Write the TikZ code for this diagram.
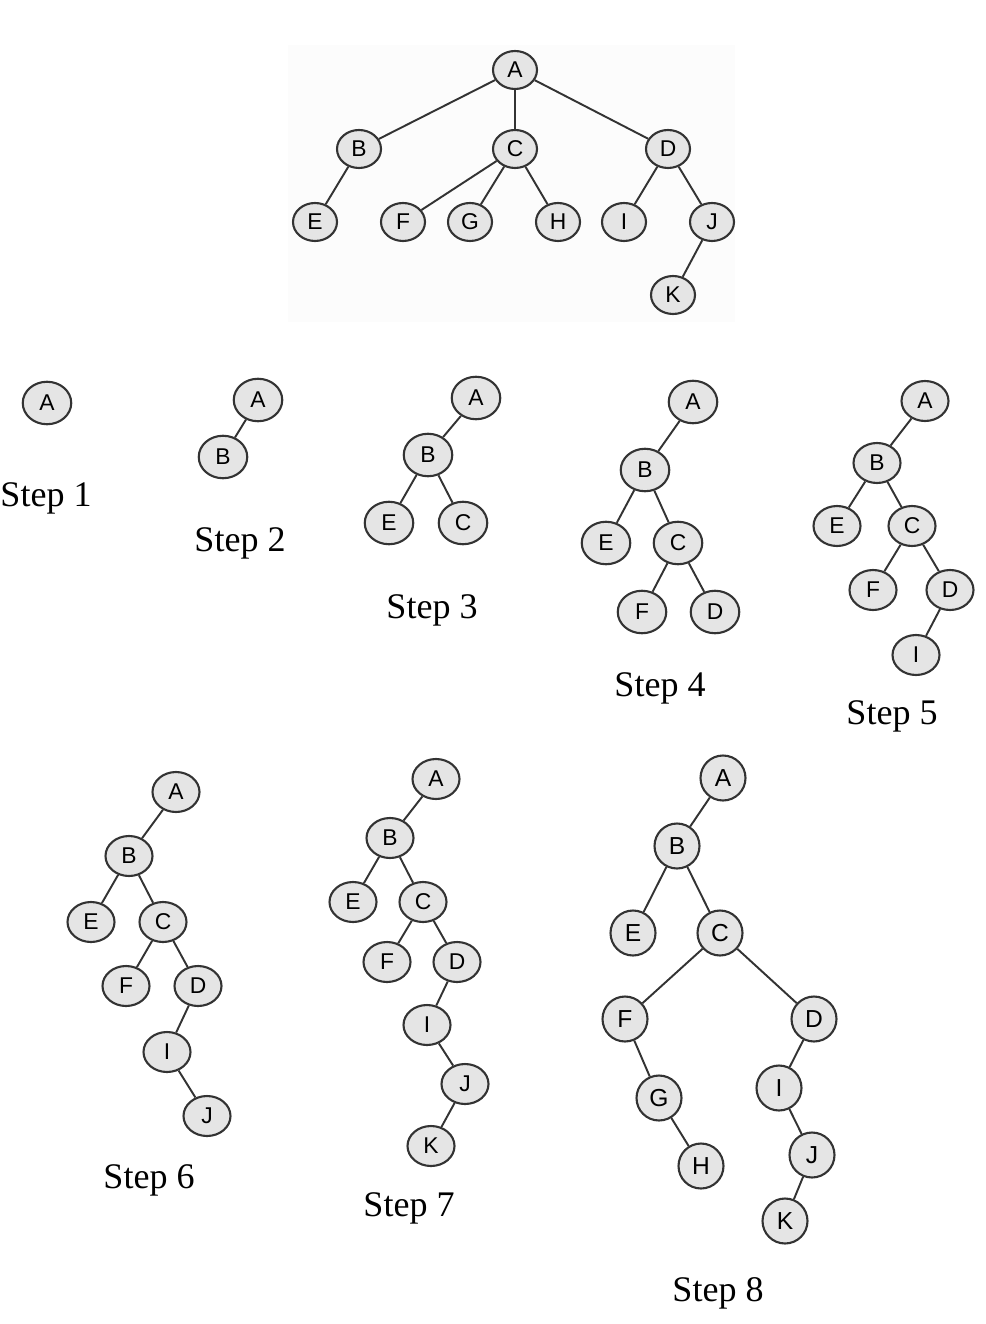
\documentclass[tikz,border=0pt]{standalone}
\usepackage{fontspec}
\setmainfont{Liberation Serif}
\newfontfamily\arialfont{Liberation Sans}
\usetikzlibrary{shapes.geometric}
\begin{document}
\begin{tikzpicture}[x=0.02cm,y=-0.02cm,
    vert/.style={draw=black!80,line width=1.2pt,fill=black!10,ellipse,inner sep=0pt,minimum width=0.94cm,minimum height=0.8cm,font=\arialfont\fontsize{13}{15}\selectfont},
    tvert/.style={vert,minimum width=0.88cm,minimum height=0.76cm},
    bvert/.style={vert,minimum width=0.97cm,minimum height=0.85cm},
    cvert/.style={vert,circle,minimum size=0.9cm,font=\arialfont\fontsize{14}{16}\selectfont},
    steplabel/.style={font=\fontsize{20.5}{24}\selectfont},
    edge/.style={draw=black!80,line width=1.1pt}]
        \useasboundingbox (0,0) rectangle (986,1324);
        \fill[black!1] (288,45) rectangle (735,322);
        % full tree
        \node[tvert] (tA) at (515,70) {A};
        \node[tvert] (tB) at (359,149) {B};
        \node[tvert] (tC) at (515,149) {C};
        \node[tvert] (tD) at (668,149) {D};
        \node[tvert] (tE) at (315,222) {E};
        \node[tvert] (tF) at (403,222) {F};
        \node[tvert] (tG) at (470,222) {G};
        \node[tvert] (tH) at (558,222) {H};
        \node[tvert] (tI) at (624,222) {I};
        \node[tvert] (tJ) at (712,222) {J};
        \node[tvert] (tK) at (673,295) {K};
        \draw[edge] (tA) -- (tB);
        \draw[edge] (tA) -- (tC);
        \draw[edge] (tA) -- (tD);
        \draw[edge] (tB) -- (tE);
        \draw[edge] (tC) -- (tF);
        \draw[edge] (tC) -- (tG);
        \draw[edge] (tC) -- (tH);
        \draw[edge] (tD) -- (tI);
        \draw[edge] (tD) -- (tJ);
        \draw[edge] (tJ) -- (tK);
        % step 1
        \node[bvert] (aA) at (47,403) {A};
        \node[steplabel] (aL) at (46,498) {Step 1};
        % step 2
        \node[bvert] (bA) at (258,400) {A};
        \node[bvert] (bB) at (223,457) {B};
        \draw[edge] (bA) -- (bB);
        \node[steplabel] (bL) at (240,543) {Step 2};
        % step 3
        \node[bvert] (cA) at (476,398) {A};
        \node[bvert] (cB) at (428,455) {B};
        \node[bvert] (cE) at (389,523) {E};
        \node[bvert] (cC) at (463,523) {C};
        \draw[edge] (cA) -- (cB);
        \draw[edge] (cB) -- (cE);
        \draw[edge] (cB) -- (cC);
        \node[steplabel] (cL) at (432,610) {Step 3};
        % step 4
        \node[bvert] (dA) at (693,402) {A};
        \node[bvert] (dB) at (645,470) {B};
        \node[bvert] (dE) at (606,543) {E};
        \node[bvert] (dC) at (678,543) {C};
        \node[bvert] (dF) at (642,612) {F};
        \node[bvert] (dD) at (715,612) {D};
        \draw[edge] (dA) -- (dB);
        \draw[edge] (dB) -- (dE);
        \draw[edge] (dB) -- (dC);
        \draw[edge] (dC) -- (dF);
        \draw[edge] (dC) -- (dD);
        \node[steplabel] (dL) at (660,688) {Step 4};
        % step 5
        \node[vert] (eA) at (925,401) {A};
        \node[vert] (eB) at (877,463) {B};
        \node[vert] (eE) at (837,526) {E};
        \node[vert] (eC) at (912,526) {C};
        \node[vert] (eF) at (873,590) {F};
        \node[vert] (eD) at (950,590) {D};
        \node[vert] (eI) at (916,655) {I};
        \draw[edge] (eA) -- (eB);
        \draw[edge] (eB) -- (eE);
        \draw[edge] (eB) -- (eC);
        \draw[edge] (eC) -- (eF);
        \draw[edge] (eC) -- (eD);
        \draw[edge] (eD) -- (eI);
        \node[steplabel] (eL) at (892,716) {Step 5};
        % step 6
        \node[vert] (fA) at (176,792) {A};
        \node[vert] (fB) at (129,856) {B};
        \node[vert] (fE) at (91,922) {E};
        \node[vert] (fC) at (163,922) {C};
        \node[vert] (fF) at (126,986) {F};
        \node[vert] (fD) at (198,986) {D};
        \node[vert] (fI) at (167,1052) {I};
        \node[vert] (fJ) at (207,1116) {J};
        \draw[edge] (fA) -- (fB);
        \draw[edge] (fB) -- (fE);
        \draw[edge] (fB) -- (fC);
        \draw[edge] (fC) -- (fF);
        \draw[edge] (fC) -- (fD);
        \draw[edge] (fD) -- (fI);
        \draw[edge] (fI) -- (fJ);
        \node[steplabel] (fL) at (149,1180) {Step 6};
        % step 7
        \node[vert] (gA) at (436,779) {A};
        \node[vert] (gB) at (390,838) {B};
        \node[vert] (gE) at (353,902) {E};
        \node[vert] (gC) at (423,902) {C};
        \node[vert] (gF) at (387,962) {F};
        \node[vert] (gD) at (457,962) {D};
        \node[vert] (gI) at (427,1025) {I};
        \node[vert] (gJ) at (465,1084) {J};
        \node[vert] (gK) at (431,1146) {K};
        \draw[edge] (gA) -- (gB);
        \draw[edge] (gB) -- (gE);
        \draw[edge] (gB) -- (gC);
        \draw[edge] (gC) -- (gF);
        \draw[edge] (gC) -- (gD);
        \draw[edge] (gD) -- (gI);
        \draw[edge] (gI) -- (gJ);
        \draw[edge] (gJ) -- (gK);
        \node[steplabel] (gL) at (409,1208) {Step 7};
        % step 8
        \node[cvert] (hA) at (723,778) {A};
        \node[cvert] (hB) at (677,846) {B};
        \node[cvert] (hE) at (633,933) {E};
        \node[cvert] (hC) at (720,933) {C};
        \node[cvert] (hF) at (625,1019) {F};
        \node[cvert] (hD) at (814,1019) {D};
        \node[cvert] (hG) at (659,1098) {G};
        \node[cvert] (hH) at (701,1166) {H};
        \node[cvert] (hI) at (779,1088) {I};
        \node[cvert] (hJ) at (812,1155) {J};
        \node[cvert] (hK) at (785,1221) {K};
        \draw[edge] (hA) -- (hB);
        \draw[edge] (hB) -- (hE);
        \draw[edge] (hB) -- (hC);
        \draw[edge] (hC) -- (hF);
        \draw[edge] (hC) -- (hD);
        \draw[edge] (hF) -- (hG);
        \draw[edge] (hG) -- (hH);
        \draw[edge] (hD) -- (hI);
        \draw[edge] (hI) -- (hJ);
        \draw[edge] (hJ) -- (hK);
        \node[steplabel] (hL) at (718,1293) {Step 8};
    \end{tikzpicture}
\end{document}
